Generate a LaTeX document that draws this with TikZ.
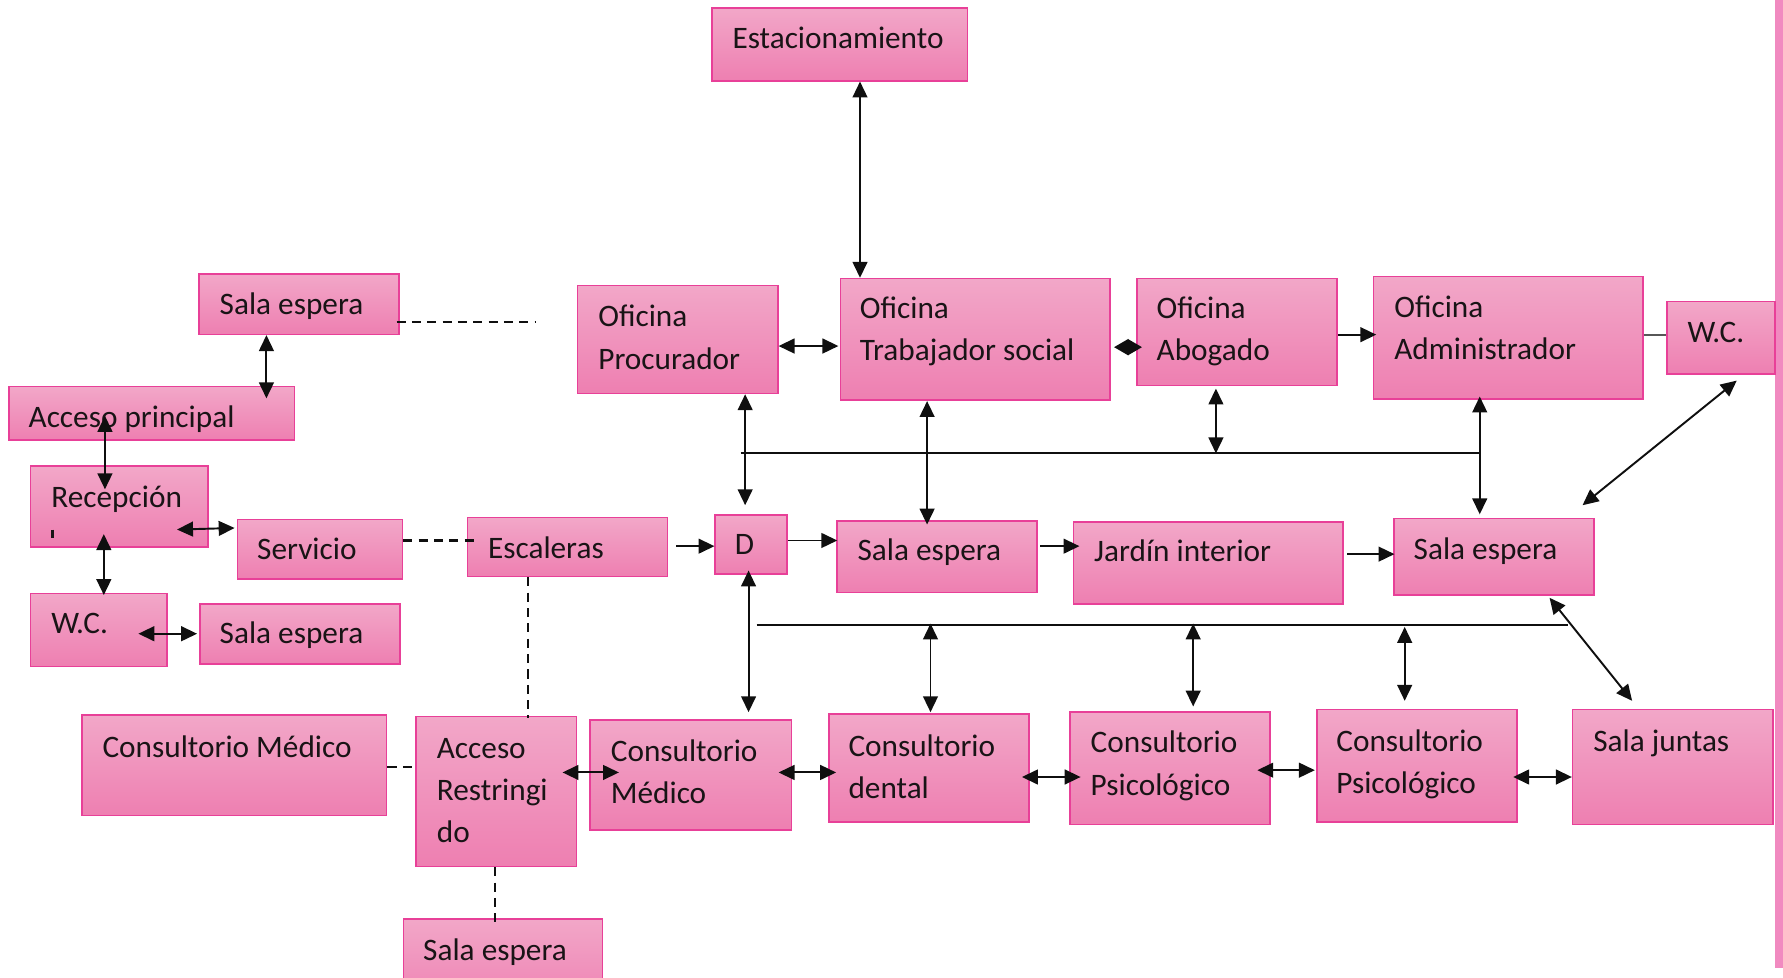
\documentclass[tikz,border=0pt]{standalone}
\usepackage{fontspec}
\setmainfont{Carlito}
\usetikzlibrary{arrows.meta,calc,fit}

\definecolor{roomtop}{RGB}{242,167,200}
\definecolor{roombot}{RGB}{238,127,177}
\definecolor{roomedge}{RGB}{232,64,152}
\definecolor{inkline}{RGB}{15,15,15}
\definecolor{inktext}{RGB}{25,20,22}
\definecolor{edgestrip}{RGB}{241,138,192}

\tikzset{
  roomfill/.style={draw=roomedge, line width=1.4pt, top color=roomtop,
    bottom color=roombot, inner sep=0pt, rectangle},
  roomlabel/.style={anchor=base west, inner sep=0pt, text=inktext,
    font=\fontsize{27.5}{33}\selectfont},
  link/.style={draw=inkline, line width=1.7pt},
  twoway/.style={link, {Triangle[length=14pt,width=13pt]}-{Triangle[length=14pt,width=13pt]}},
  oneway/.style={link, -{Triangle[length=14pt,width=13pt]}},
  diamondlink/.style={link, {Triangle[length=12.5pt,width=14pt]}-{Triangle[length=12.5pt,width=14pt]}},
  dashlink/.style={draw=inkline, line width=1.9pt, dash pattern=on 8pt off 5.5pt},
}

% room box from its top-left and bottom-right corners
\newcommand\roombox[3]{\node[roomfill, fit={#2 #3}] (#1) {};}
% one line of a room's label, placed by its baseline start
\newcommand\roomtext[4]{\node[roomlabel] (#1) at (#2,#3) {#4};}

\begin{document}
\begin{tikzpicture}[x=1pt, y=-1pt]
\clip (0,0) rectangle (1568,860);

% right-hand border strip
\fill[edgestrip] (1561,0) rectangle (1568,851);

% rooms
\roombox{estac}{(626,7)}{(851,71)}
\roombox{saTL}{(175,241)}{(351,294)}
\roombox{acc}{(8,340)}{(259,387)}
\roombox{rec}{(27,410)}{(183,481)}
\roombox{serv}{(209,457)}{(354,509)}
\roombox{wcL}{(27,522)}{(147,586)}
\roombox{saLB}{(176,531)}{(352,584)}
\roombox{esc}{(411,455)}{(587,507)}
\roombox{dd}{(629,453)}{(692,505)}
\roombox{saM}{(736,458)}{(912,521)}
\roombox{jard}{(944,459)}{(1181,531)}
\roombox{saR}{(1226,456)}{(1402,523)}
\roombox{proc}{(508,251)}{(684,346)}
\roombox{ots}{(739,245)}{(976,352)}
\roombox{abo}{(1000,245)}{(1176,339)}
\roombox{adm}{(1208,243)}{(1445,351)}
\roombox{wcR}{(1466,265)}{(1561,329)}
\roombox{cmL}{(72,629)}{(340,717)}
\roombox{accR}{(366,630)}{(507,762)}
\roombox{cm}{(519,633)}{(696,730)}
\roombox{dent}{(729,628)}{(905,723)}
\roombox{ps1}{(941,626)}{(1117,725)}
\roombox{ps2}{(1158,624)}{(1334,723)}
\roombox{junt}{(1383,624)}{(1559,725)}
\roombox{saB}{(355,808)}{(530,890)}

% labels
\roomtext{estac-t}{644}{43}{Estacionamiento}
\roomtext{saTL-t}{193}{277}{Sala espera}
\roomtext{acc-t}{25}{376}{Acceso principal}
\roomtext{rec-t}{45}{446}{Recepción}
\draw[inktext, line width=2.2pt] ($(rec.south west)+(20,-16)$) -- ($(rec.south west)+(20,-9)$);
\roomtext{serv-t}{226}{492}{Servicio}
\roomtext{wcL-t}{45}{557}{W.C.}
\roomtext{saLB-t}{193}{566}{Sala espera}
\roomtext{esc-t}{429}{491}{Escaleras}
\roomtext{dd-t}{646}{488}{D}
\roomtext{saM-t}{754}{493}{Sala espera}
\roomtext{jard-t}{962}{494}{Jardín interior}
\roomtext{saR-t}{1243}{492}{Sala espera}
\roomtext{proc-t1}{526}{287}{Oficina}
\roomtext{proc-t2}{526}{325}{Procurador}
\roomtext{ots-t1}{756}{280}{Oficina}
\roomtext{ots-t2}{756}{317}{Trabajador social}
\roomtext{abo-t1}{1017}{280}{Oficina}
\roomtext{abo-t2}{1017}{317}{Abogado}
\roomtext{adm-t1}{1226}{279}{Oficina}
\roomtext{adm-t2}{1226}{316}{Administrador}
\roomtext{wcR-t}{1484}{301}{W.C.}
\roomtext{cmL-t}{90}{666}{Consultorio Médico}
\roomtext{accR-t1}{384}{667}{Acceso}
\roomtext{accR-t2}{384}{704}{Restringi}
\roomtext{accR-t3}{384}{741}{do}
\roomtext{cm-t1}{537}{670}{Consultorio}
\roomtext{cm-t2}{537}{707}{Médico}
\roomtext{dent-t1}{746}{665}{Consultorio}
\roomtext{dent-t2}{746}{702}{dental}
\roomtext{ps1-t1}{959}{662}{Consultorio}
\roomtext{ps1-t2}{959}{700}{Psicológico}
\roomtext{ps2-t1}{1175}{661}{Consultorio}
\roomtext{ps2-t2}{1175}{698}{Psicológico}
\roomtext{junt-t}{1401}{661}{Sala juntas}
\roomtext{saB-t}{372}{845}{Sala espera}

% corridor lines
\coordinate (busTa) at ($(proc.south west)+(144,52)$);
\coordinate (busTb) at ($(adm.south west)+(94,47)$);
\coordinate (busBa) at ($(dd.south west)+(37,44)$);
\coordinate (busBb) at ($(saR.south west)+(154,26)$);
\draw[link] (busTa) -- (busTb);
\draw[link] (busBa) -- (busBb);

% dashed links
\coordinate (saTLend) at ($(saTL.north east)+(119,43)$);
\draw[dashlink] ($(saTL.north east)+(-3,43)$) -- (saTLend);
\draw[dashlink] ($(serv.north east)+(0,19)$) -- ($(esc.north west)+(9,21)$);
\draw[dashlink] ($(esc.south west)+(54,0)$) -- ($(accR.north west)+(99,2)$);
\draw[dashlink] ($(cmL.north east)+(0,46)$) -- ($(accR.north west)+(0,45)$);
\draw[dashlink] ($(accR.south west)+(70,0)$) -- ($(saB.north west)+(81,7)$);

% left wing
\draw[twoway] ($(saTL.south west)+(60,0)$) -- ($(acc.north west)+(227,11)$);
\draw[twoway] ($(acc.south west)+(85,-22)$) -- ($(rec.north west)+(66,21)$);
\draw[twoway] ($(rec.south east)+(-28,-16)$) -- ($(serv.north west)+(-2,8)$);
\draw[twoway] ($(rec.south west)+(65,-12)$) -- ($(wcL.north west)+(65,2)$);
\draw[twoway] ($(wcL.north east)+(-26,36)$) -- ($(saLB.north west)+(-2,27)$);

% main flow
\draw[oneway] ($(esc.north east)+(7,26)$) -- ($(dd.north west)+(0,28)$);
\draw[oneway] ($(dd.north east)+(0,23)$) -- ($(saM.north west)+(1,18)$);
\draw[oneway] ($(saM.north east)+(2,23)$) -- ($(jard.north west)+(6,22)$);
\draw[oneway] ($(jard.north east)+(3,29)$) -- ($(saR.north west)+(1,32)$);

% offices
\draw[twoway] ($(estac.south west)+(131,0)$) -- ($(ots.north west)+(18,0)$);
\draw[twoway] ($(proc.north east)+(0,54)$) -- ($(ots.north west)+(-1,60)$);
\draw[diamondlink] ($(ots.north east)+(3,61)$) -- ($(abo.north west)+(5,61)$);
\draw[oneway] ($(abo.north east)+(0,50)$) -- ($(adm.north west)+(3,52)$);
\draw[link, draw=inkline!70] ($(adm.north east)+(0,52)$) -- ($(wcR.north west)+(0,30)$);

% office corridor
\draw[twoway] ($(proc.south west)+(148,0)$) -- ($(dd.north west)+(27,-8)$);
\draw[twoway] ($(ots.south west)+(77,0)$) -- ($(saM.north west)+(80,4)$);
\draw[twoway] ($(abo.south west)+(70,2)$) -- ($(abo.south west)+(70,59)$);
\draw[twoway] ($(adm.south west)+(94,-3)$) -- ($(saR.north west)+(76,-3)$);
\draw[twoway] ($(wcR.south west)+(62,5)$) -- ($(saR.north east)+(-11,-11)$);

% consulting corridor
\draw[twoway] ($(dd.south west)+(30,-4)$) -- ($(cm.north west)+(140,-6)$);
\draw[twoway] ($(dent.north west)+(90,-79)$) -- ($(dent.north west)+(90,-1)$);
\draw[twoway] ($(ps1.north west)+(109,-77)$) -- ($(ps1.north west)+(109,-4)$);
\draw[twoway] ($(ps2.north west)+(78,-72)$) -- ($(ps2.north west)+(78,-7)$);
\draw[twoway] ($(saR.south east)+(-40,2)$) -- ($(junt.north west)+(53,-7)$);

% consulting rooms row
\draw[twoway] ($(accR.north east)+(-13,50)$) -- ($(cm.north west)+(26,47)$);
\draw[twoway] ($(cm.north east)+(-12,47)$) -- ($(dent.north west)+(7,52)$);
\draw[twoway] ($(dent.north east)+(-7,56)$) -- ($(ps1.north west)+(10,58)$);
\draw[twoway] ($(ps1.north east)+(-12,52)$) -- ($(ps2.north west)+(-1,54)$);
\draw[twoway] ($(ps2.north east)+(-4,60)$) -- ($(junt.north west)+(0,60)$);
\end{tikzpicture}
\end{document}
